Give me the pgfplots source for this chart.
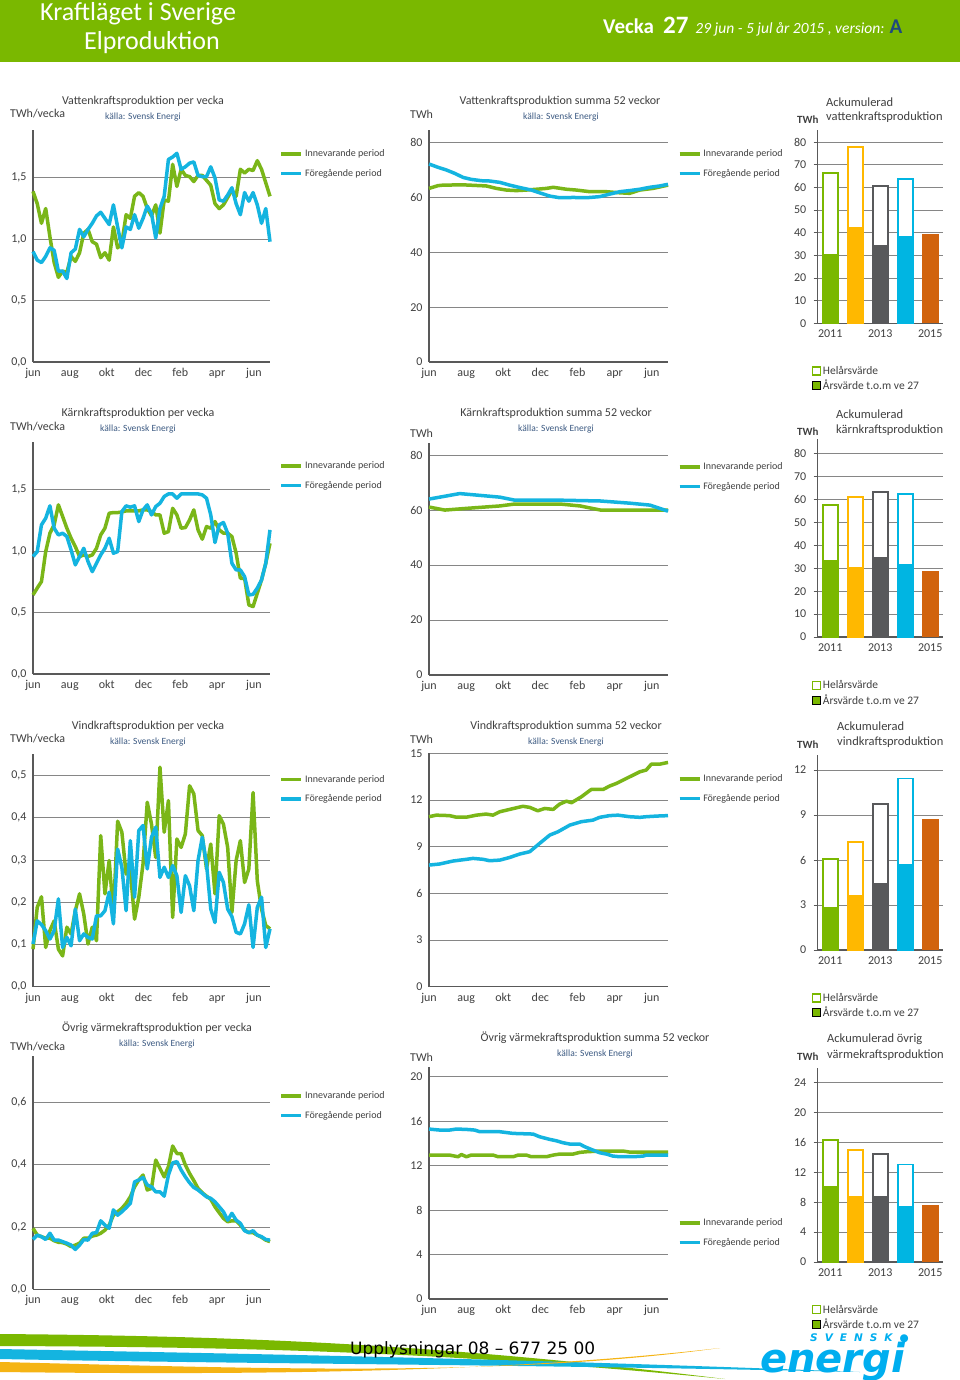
\documentclass[border=0pt]{standalone}
\usepackage{fontspec}
\setmainfont{Carlito}
\newfontfamily\verdana{DejaVu Sans}
\usepackage{pgfplots}
\usepackage{pgfplotstable}
\pgfplotsset{compat=1.18}

\definecolor{hdr}{RGB}{122,184,0}
\definecolor{gline}{RGB}{122,182,24}
\definecolor{bline}{RGB}{20,180,224}
\definecolor{txt}{RGB}{64,64,64}
\definecolor{src}{RGB}{60,90,130}
\definecolor{axc}{RGB}{89,89,89}
\definecolor{gridc}{RGB}{134,134,134}
\definecolor{c11}{RGB}{122,184,0}
\definecolor{c12}{RGB}{255,184,0}
\definecolor{c13}{RGB}{88,89,91}
\definecolor{c14}{RGB}{0,181,226}
\definecolor{c15}{RGB}{209,99,13}
\definecolor{navy}{RGB}{31,73,125}
\definecolor{logo}{RGB}{0,174,239}
\definecolor{swy}{RGB}{245,180,20}

\newcommand{\fs}[1]{\fontsize{#1}{#1}\selectfont}

\pgfplotsset{
  base/.style={scale only axis, anchor=south west,
    axis x line*=bottom, axis y line*=left,
    ymajorgrids, grid style={gridc, line width=0.9pt},
    axis line style={axc, line width=1.5pt, -},
    xtick style={draw=none},
    ticklabel style={font=\fs{12}, text=txt},
    yticklabel style={xshift=-3pt},
    xticklabel style={yshift=-3pt, text height=8pt, text depth=2.5pt},
    /pgf/number format/assume math mode=true,
    ymin=0, clip=false},
  week/.style={base, width=237pt, xmin=0, xmax=56,
    ytick style={draw=none},
    xtick={0,8.7,17.4,26.1,34.8,43.5,52.2},
    xticklabels={jun,aug,okt,dec,feb,apr,jun},
    legend style={at={(1.04,0.925)}, anchor=north west, draw=none, fill=none,
      font=\fs{10}, text=txt, row sep=7pt, inner sep=0pt},
    legend cell align=left,
    legend image code/.code={\draw[##1, line width=3.5pt] (0pt,0pt) -- (20pt,0pt);}},
  sum/.style={week, width=239pt},
  gl/.style={gline, line width=3.5pt, line join=round},
  bl/.style={bline, line width=3.5pt, line join=round},
  bars/.style={base, width=125pt, xmin=-0.5, xmax=4.5,
    xtick={0,2,4}, xticklabels={2011,2013,2015},
    yticklabel style={xshift=-1pt},
    ytick style={draw=axc, line width=0.8pt}, ytick align=outside, major tick length=4pt,
    legend style={at={(-0.05,-0.21)}, anchor=north west, draw=none, fill=none,
      font=\fs{11.5}, text=txt, row sep=0pt, inner sep=0pt},
    legend cell align=left,
    legend image code/.code={\draw[##1] (0pt,-4pt) rectangle (8pt,4pt);}},
  hb/.style={ybar, bar shift=0pt, bar width=15pt, fill=white, line width=1.7pt, forget plot},
  ab/.style={ybar, bar shift=0pt, bar width=16.7pt, draw=none, forget plot},
}

% weekly data (57 weeks, jun to jul)
\pgfplotstableread{
g b
1.39 0.90
1.29 0.83
1.13 0.81
1.25 0.86
1.02 0.93
0.81 0.91
0.69 0.74
0.74 0.74
0.73 0.68
0.86 0.89
0.82 0.92
0.89 1.08
1.05 1.02
1.08 1.08
0.98 1.13
0.96 1.19
0.85 1.22
0.89 1.17
0.83 1.12
1.10 1.28
0.93 1.10
0.97 0.93
1.20 1.10
1.17 1.08
1.35 1.20
1.38 1.09
1.35 1.17
1.25 1.27
1.19 1.21
1.28 1.01
1.05 1.25
1.32 1.35
1.31 1.65
1.61 1.67
1.43 1.70
1.57 1.57
1.52 1.59
1.51 1.62
1.47 1.63
1.52 1.52
1.52 1.51
1.48 1.51
1.44 1.59
1.29 1.50
1.25 1.32
1.28 1.31
1.34 1.36
1.40 1.42
1.35 1.29
1.57 1.20
1.54 1.38
1.57 1.31
1.56 1.38
1.64 1.28
1.57 1.13
1.46 1.25
1.35 0.98
}\tabVatten

\pgfplotstableread{
g b
0.644 0.957
0.700 0.997
0.753 1.215
0.997 1.269
1.147 1.370
1.215 1.188
1.378 1.133
1.283 1.147
1.188 1.120
1.106 1.011
1.038 0.889
0.957 0.957
0.970 1.024
0.957 0.916
0.970 0.834
1.024 0.902
1.133 0.970
1.188 1.024
1.310 1.106
1.315 0.984
1.315 0.997
1.320 1.323
1.329 1.370
1.329 1.359
1.329 1.370
1.329 1.242
1.337 1.337
1.337 1.378
1.323 1.296
1.296 1.364
1.296 1.391
1.147 1.446
1.160 1.467
1.350 1.467
1.296 1.432
1.188 1.467
1.193 1.467
1.255 1.467
1.337 1.467
1.174 1.467
1.098 1.459
1.201 1.432
1.188 1.296
1.242 1.071
1.174 1.215
1.147 1.234
1.147 1.147
1.120 0.902
0.984 0.848
0.780 0.848
0.780 0.793
0.563 0.644
0.549 0.649
0.658 0.700
0.766 0.766
0.902 0.902
1.065 1.174
}\tabKarn

\pgfplotstableread{
g b
0.089 0.101
0.188 0.156
0.213 0.147
0.093 0.133
0.133 0.113
0.156 0.133
0.089 0.208
0.073 0.093
0.141 0.117
0.125 0.097
0.180 0.184
0.220 0.109
0.172 0.125
0.101 0.117
0.141 0.113
0.109 0.168
0.358 0.168
0.220 0.180
0.299 0.224
0.172 0.149
0.392 0.326
0.366 0.283
0.267 0.180
0.275 0.346
0.160 0.212
0.212 0.370
0.291 0.382
0.437 0.279
0.385 0.354
0.306 0.378
0.520 0.259
0.366 0.283
0.441 0.259
0.164 0.287
0.350 0.263
0.330 0.176
0.362 0.263
0.476 0.239
0.457 0.180
0.370 0.299
0.358 0.354
0.279 0.291
0.338 0.184
0.220 0.152
0.405 0.271
0.385 0.247
0.330 0.184
0.176 0.166
0.299 0.129
0.346 0.125
0.247 0.149
0.279 0.194
0.460 0.093
0.251 0.188
0.184 0.212
0.145 0.093
0.137 0.137
}\tabVind

\pgfplotstableread{
g b
0.196 0.160
0.174 0.174
0.169 0.169
0.164 0.160
0.164 0.180
0.156 0.158
0.151 0.158
0.150 0.153
0.145 0.148
0.137 0.142
0.142 0.128
0.148 0.142
0.164 0.160
0.164 0.158
0.171 0.180
0.174 0.182
0.180 0.220
0.190 0.206
0.206 0.196
0.238 0.255
0.249 0.238
0.260 0.249
0.276 0.262
0.297 0.276
0.329 0.345
0.351 0.351
0.367 0.359
0.319 0.335
0.324 0.329
0.415 0.313
0.388 0.313
0.361 0.299
0.394 0.367
0.460 0.406
0.436 0.410
0.436 0.383
0.399 0.361
0.372 0.342
0.349 0.327
0.324 0.319
0.310 0.308
0.299 0.297
0.289 0.292
0.265 0.281
0.246 0.265
0.228 0.249
0.217 0.222
0.220 0.244
0.220 0.222
0.206 0.212
0.190 0.188
0.182 0.182
0.182 0.188
0.174 0.174
0.167 0.169
0.158 0.160
0.153 0.158
}\tabOvrig

\begin{document}
\begin{tikzpicture}
\useasboundingbox (0pt,0pt) rectangle (960pt,-1380pt);
\fill[white] (0pt,0pt) rectangle (960pt,-1380pt);

% ---------------- header
\fill[hdr] (0pt,0pt) rectangle (960pt,-62pt);
\node[anchor=west, text=white, font=\fs{26}, inner sep=0pt] at (40pt,-14pt) {Kraftläget i Sverige};
\node[text=white, font=\fs{26}, inner sep=0pt] at (152pt,-43pt) {Elproduktion};
\node[anchor=west, text=white, inner sep=0pt] at (603pt,-27pt)
  {{\fs{21}\bfseries Vecka}\hspace{9pt}{\fs{25}\bfseries 27}\hspace{7pt}{\fs{15.5}\itshape 29 jun - 5 jul år 2015 , version:}\hspace{5pt}{\fs{21}\bfseries\color{navy}A}};

% ---------------- text labels (titles, units)
\tikzset{ttl/.style={text=txt, font=\fs{12}, inner sep=0pt},
  srcs/.style={text=src, font=\fs{9.5}, inner sep=0pt},
  unit/.style={text=txt, font=\fs{12}, inner sep=0pt, anchor=west},
  tw/.style={text=txt, font=\fs{11}\bfseries, inner sep=0pt, anchor=west},
  acc/.style={text=txt, font=\fs{12.5}, inner sep=0pt, anchor=west}}

% row 1
\node[ttl] at (143pt,-101pt) {Vattenkraftsproduktion per vecka};
\node[srcs] at (143pt,-117pt) {källa: Svensk Energi};
\node[unit] at (10pt,-114pt) {TWh/vecka};
\node[ttl] at (560pt,-101pt) {Vattenkraftsproduktion summa 52 veckor};
\node[srcs] at (561pt,-117pt) {källa: Svensk Energi};
\node[unit] at (410pt,-114pt) {TWh};
\node[acc] at (826pt,-102pt) {Ackumulerad};
\node[acc] at (826pt,-117pt) {vattenkraftsproduktion};
\node[tw] at (797pt,-120pt) {TWh};
% row 2
\node[ttl] at (138pt,-413pt) {Kärnkraftsproduktion per vecka};
\node[srcs] at (138pt,-429pt) {källa: Svensk Energi};
\node[unit] at (10pt,-427pt) {TWh/vecka};
\node[ttl] at (556pt,-413pt) {Kärnkraftsproduktion summa 52 veckor};
\node[srcs] at (556pt,-429pt) {källa: Svensk Energi};
\node[unit] at (410pt,-433pt) {TWh};
\node[acc] at (836pt,-414pt) {Ackumulerad};
\node[acc] at (836pt,-430pt) {kärnkraftsproduktion};
\node[tw] at (797pt,-432pt) {TWh};
% row 3
\node[ttl] at (148pt,-726pt) {Vindkraftsproduktion per vecka};
\node[srcs] at (148pt,-742pt) {källa: Svensk Energi};
\node[unit] at (10pt,-739pt) {TWh/vecka};
\node[ttl] at (566pt,-726pt) {Vindkraftsproduktion summa 52 veckor};
\node[srcs] at (566pt,-742pt) {källa: Svensk Energi};
\node[unit] at (410pt,-739pt) {TWh};
\node[acc] at (837pt,-726pt) {Ackumulerad};
\node[acc] at (837pt,-742pt) {vindkraftsproduktion};
\node[tw] at (797pt,-745pt) {TWh};
% row 4
\node[ttl] at (157pt,-1028pt) {Övrig värmekraftsproduktion per vecka};
\node[srcs] at (157pt,-1044pt) {källa: Svensk Energi};
\node[unit] at (10pt,-1047pt) {TWh/vecka};
\node[ttl] at (595pt,-1038pt) {Övrig värmekraftsproduktion summa 52 veckor};
\node[srcs] at (595pt,-1054pt) {källa: Svensk Energi};
\node[unit] at (410pt,-1057pt) {TWh};
\node[acc] at (827pt,-1039pt) {Ackumulerad övrig};
\node[acc] at (827pt,-1055pt) {värmekraftsproduktion};
\node[tw] at (797pt,-1057pt) {TWh};

% ================= ROW 1: Vatten
\begin{axis}[week, at={(33pt,-362pt)}, height=232pt, ymax=1.89,
  ytick={0,0.5,1,1.5}, yticklabels={{0,0},{0,5},{1,0},{1,5}}]
\addplot[gl] table[x expr=\coordindex, y=g] {\tabVatten};
\addlegendentry{Innevarande period}
\addplot[bl] table[x expr=\coordindex, y=b] {\tabVatten};
\addlegendentry{Föregående period}
\end{axis}

\begin{axis}[sum, at={(429pt,-362pt)}, height=232pt, ymax=84.6, ytick={0,20,...,80}]
\addplot[gl] coordinates {(0,63.3) (2.1,64.3) (3.3,64.5) (8,64.6) (13.4,64.2) (15.8,63.3) (18.1,62.7) (20.5,62.5) (22.8,62.7) (25.2,63.0) (27.5,63.3) (29.1,63.7) (32.2,63.0) (34.5,62.7) (37.7,62.1) (41.6,62.1) (44.7,61.7) (47.0,61.5) (49.4,62.7) (52.5,63.3) (56,64.5)};
\addlegendentry{Innevarande period}
\addplot[bl] coordinates {(0,72.2) (2.1,71) (4.1,70) (6.0,68.8) (8.0,67.3) (9.9,66.6) (12.3,66.1) (14.2,66) (16.6,65.5) (18.9,64.5) (21.3,63.6) (24.0,62.7) (25.9,61.7) (28.3,60.5) (30.6,59.9) (33.8,60) (36.9,59.9) (40.0,60.3) (42.3,61.2) (44.7,62.1) (47.0,62.5) (49.4,63) (51.7,63.7) (54.1,64.2) (56,64.8)};
\addlegendentry{Föregående period}
\end{axis}

\begin{axis}[bars, at={(817.7pt,-323.3pt)}, height=193.3pt, ymax=85.4, ytick={0,10,...,80}]
\addlegendimage{draw=c11, fill=white, line width=1.2pt}\addlegendentry{Helårsvärde}
\addlegendimage{draw=none, fill=c11}\addlegendentry{Årsvärde t.o.m ve 27}
\addplot[hb, draw=c11] coordinates {(0,66.4)};
\addplot[ab, fill=c11] coordinates {(0,30.6)};
\addplot[hb, draw=c12] coordinates {(1,77.9)};
\addplot[ab, fill=c12] coordinates {(1,42.4)};
\addplot[hb, draw=c13] coordinates {(2,60.7)};
\addplot[ab, fill=c13] coordinates {(2,34.6)};
\addplot[hb, draw=c14] coordinates {(3,63.9)};
\addplot[ab, fill=c14] coordinates {(3,38.7)};
\addplot[ab, fill=c15] coordinates {(4,39.3)};
\end{axis}

% ================= ROW 2: Kärn
\begin{axis}[week, at={(33pt,-674pt)}, height=232pt, ymax=1.89,
  ytick={0,0.5,1,1.5}, yticklabels={{0,0},{0,5},{1,0},{1,5}}]
\addplot[gl] table[x expr=\coordindex, y=g] {\tabKarn};
\addlegendentry{Innevarande period}
\addplot[bl] table[x expr=\coordindex, y=b] {\tabKarn};
\addlegendentry{Föregående period}
\end{axis}

\begin{axis}[sum, at={(429pt,-675pt)}, height=232pt, ymax=84.4, ytick={0,20,...,80}]
\addplot[gl] coordinates {(0,61.1) (3.7,60.0) (9.5,60.7) (16.6,61.5) (20.1,62.2) (30.7,62.2) (35.4,61.5) (40.2,60.0) (47.1,60.0) (56,60.0)};
\addlegendentry{Innevarande period}
\addplot[bl] coordinates {(0,64.0) (7.2,66.0) (16.6,64.7) (20.1,63.6) (30.7,63.6) (40.2,63.3) (47.1,62.5) (51.8,61.8) (56,59.6)};
\addlegendentry{Föregående period}
\end{axis}

\begin{axis}[bars, at={(817.7pt,-637pt)}, height=198pt, ymax=86.5, ytick={0,10,...,80}]
\addlegendimage{draw=c11, fill=white, line width=1.2pt}\addlegendentry{Helårsvärde}
\addlegendimage{draw=none, fill=c11}\addlegendentry{Årsvärde t.o.m ve 27}
\addplot[hb, draw=c11] coordinates {(0,57.6)};
\addplot[ab, fill=c11] coordinates {(0,33.5)};
\addplot[hb, draw=c12] coordinates {(1,61.1)};
\addplot[ab, fill=c12] coordinates {(1,30.6)};
\addplot[hb, draw=c13] coordinates {(2,63.4)};
\addplot[ab, fill=c13] coordinates {(2,34.9)};
\addplot[hb, draw=c14] coordinates {(3,62.4)};
\addplot[ab, fill=c14] coordinates {(3,31.8)};
\addplot[ab, fill=c15] coordinates {(4,28.8)};
\end{axis}

% ================= ROW 3: Vind
\begin{axis}[week, at={(33pt,-986.7pt)}, height=233pt, ymax=0.552,
  ytick={0,0.1,...,0.5}, yticklabels={{0,0},{0,1},{0,2},{0,3},{0,4},{0,5}},
  legend style={at={(1.04,0.917)}}]
\addplot[gl] table[x expr=\coordindex, y=g] {\tabVind};
\addlegendentry{Innevarande period}
\addplot[bl] table[x expr=\coordindex, y=b] {\tabVind};
\addlegendentry{Föregående period}
\end{axis}

\begin{axis}[sum, at={(429pt,-986.7pt)}, height=233.3pt, ymax=15, ytick={0,3,...,15},
  legend style={at={(1.04,0.917)}}]
\addplot[gl] coordinates {(0,10.93) (1.7,11.03) (4.8,11.0) (6.4,10.9) (8.75,10.9) (11.1,11.03) (13.4,11.1) (15,11.03) (16.6,11.25) (18.9,11.4) (22.0,11.6) (23.6,11.53) (25.5,11.31) (27.1,11.46) (29.1,11.4) (30.6,11.74) (32.2,11.93) (33.4,11.83) (35.7,12.21) (38.0,12.68) (40.8,12.68) (42.3,12.9) (43.9,13.07) (46.25,13.39) (47.8,13.6) (49.4,13.82) (50.9,13.93) (52.1,14.31) (54.1,14.31) (56,14.42)};
\addlegendentry{Innevarande period}
\addplot[bl] coordinates {(0,7.82) (2.5,7.89) (5.6,8.08) (8.75,8.19) (10.3,8.25) (12.7,8.19) (14.2,8.1) (16.6,8.14) (18.9,8.31) (21.25,8.53) (23.6,8.68) (25.9,9.21) (28.3,9.75) (30.2,9.96) (33.0,10.39) (35.7,10.61) (38.4,10.71) (40.0,10.89) (42.3,11.0) (44.3,11.03) (47.0,10.93) (49.4,10.89) (50.9,10.93) (53.3,10.97) (56,11.0)};
\addlegendentry{Föregående period}
\end{axis}

\begin{axis}[bars, at={(817.7pt,-950pt)}, height=195pt, ymax=13, ytick={0,3,...,12}]
\addlegendimage{draw=c11, fill=white, line width=1.2pt}\addlegendentry{Helårsvärde}
\addlegendimage{draw=none, fill=c11}\addlegendentry{Årsvärde t.o.m ve 27}
\addplot[hb, draw=c11] coordinates {(0,6.07)};
\addplot[ab, fill=c11] coordinates {(0,2.87)};
\addplot[hb, draw=c12] coordinates {(1,7.18)};
\addplot[ab, fill=c12] coordinates {(1,3.67)};
\addplot[hb, draw=c13] coordinates {(2,9.74)};
\addplot[ab, fill=c13] coordinates {(2,4.47)};
\addplot[hb, draw=c14] coordinates {(3,11.44)};
\addplot[ab, fill=c14] coordinates {(3,5.72)};
\addplot[ab, fill=c15] coordinates {(4,8.73)};
\end{axis}

% ================= ROW 4: Övrig värme
\begin{axis}[week, at={(33pt,-1289.3pt)}, height=233.3pt, ymax=0.749,
  ytick={0,0.2,0.4,0.6}, yticklabels={{0,0},{0,2},{0,4},{0,6}},
  legend style={at={(1.04,0.856)}}]
\addplot[gl] table[x expr=\coordindex, y=g] {\tabOvrig};
\addlegendentry{Innevarande period}
\addplot[bl] table[x expr=\coordindex, y=b] {\tabOvrig};
\addlegendentry{Föregående period}
\end{axis}

\begin{axis}[sum, at={(429pt,-1299pt)}, height=232.3pt, ymax=20.9, ytick={0,4,...,20},
  legend style={at={(1.04,0.355)}}]
\addplot[gl] coordinates {(0,12.95) (4.8,12.95) (6.8,12.8) (7.6,13.0) (8.75,12.8) (9.9,12.95) (15,12.95) (16.2,12.8) (19.7,12.8) (20.9,12.95) (22.8,12.95) (24.0,12.8) (27.5,12.8) (29.1,12.95) (30.6,13.04) (33.75,13.04) (35.3,13.19) (36.9,13.25) (40,13.31) (45.5,13.31) (47,13.22) (56,13.22)};
\addlegendentry{Innevarande period}
\addplot[bl] coordinates {(0,15.29) (2.5,15.2) (4.8,15.2) (6.4,15.29) (8.75,15.26) (10.7,15.2) (11.9,15.05) (16.6,15.05) (19.7,14.9) (24.4,14.84) (25.9,14.6) (28.3,14.36) (29.8,14.24) (31.4,14.06) (33.0,13.94) (35.3,13.94) (36.5,13.7) (38,13.46) (40,13.16) (41.6,13.04) (43.1,12.86) (44.7,12.8) (47.8,12.8) (50.2,12.86) (50.9,12.95) (56,12.95)};
\addlegendentry{Föregående period}
\end{axis}

\begin{axis}[bars, at={(817.7pt,-1262pt)}, height=194pt, ymax=25.9, ytick={0,4,...,24}]
\addlegendimage{draw=c11, fill=white, line width=1.2pt}\addlegendentry{Helårsvärde}
\addlegendimage{draw=none, fill=c11}\addlegendentry{Årsvärde t.o.m ve 27}
\addplot[hb, draw=c11] coordinates {(0,16.3)};
\addplot[ab, fill=c11] coordinates {(0,10.2)};
\addplot[hb, draw=c12] coordinates {(1,15.0)};
\addplot[ab, fill=c12] coordinates {(1,8.84)};
\addplot[hb, draw=c13] coordinates {(2,14.4)};
\addplot[ab, fill=c13] coordinates {(2,8.84)};
\addplot[hb, draw=c14] coordinates {(3,13.0)};
\addplot[ab, fill=c14] coordinates {(3,7.49)};
\addplot[ab, fill=c15] coordinates {(4,7.58)};
\end{axis}

% ---------------- footer decoration
\fill[hdr] (0pt,-1334pt) .. controls (250pt,-1336pt) and (450pt,-1345pt) .. (725pt,-1379pt)
  .. controls (450pt,-1352pt) and (250pt,-1347pt) .. (0pt,-1346pt) -- cycle;
\fill[bline] (0pt,-1349pt) .. controls (250pt,-1354pt) and (500pt,-1358pt) .. (860pt,-1372pt)
  .. controls (500pt,-1364pt) and (250pt,-1364pt) .. (0pt,-1359pt) -- cycle;
\fill[swy] (0pt,-1362pt) .. controls (250pt,-1368pt) and (500pt,-1378pt) .. (720pt,-1348pt)
  .. controls (500pt,-1373pt) and (250pt,-1375pt) .. (0pt,-1372pt) -- cycle;
\node[anchor=west, inner sep=0pt, text=black, font=\verdana\fs{17}] at (350pt,-1350pt) {Upplysningar 08 – 677 25 00};
\node[anchor=west, inner sep=0pt, text=logo, font=\verdana\bfseries\itshape\fs{10.5}] at (810pt,-1338pt) {S\hspace{7pt}V\hspace{7pt}E\hspace{7pt}N\hspace{7pt}S\hspace{7pt}K\hspace{7pt}●};
\node[anchor=west, inner sep=0pt, text=logo, font=\verdana\bfseries\itshape\fs{40}] at (760pt,-1362pt) {energi};
\end{tikzpicture}
\end{document}
